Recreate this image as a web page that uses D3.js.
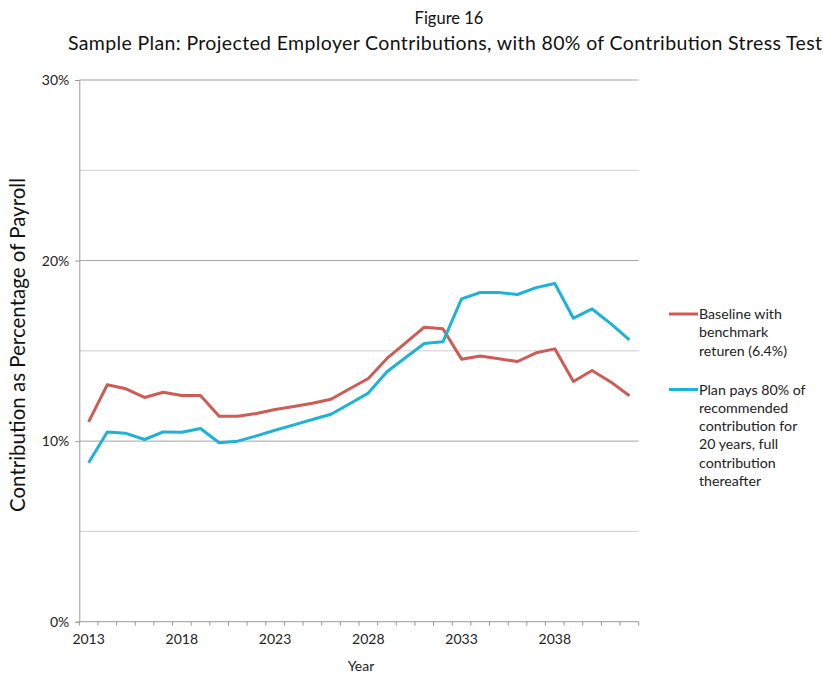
<!DOCTYPE html>
<html><head><meta charset="utf-8">
<script src="https://cdn.jsdelivr.net/npm/d3@7"></script>
<style>body{margin:0;background:#fff;} svg{display:block;font-family:Lato,"Noto Sans",sans-serif;}</style>
</head><body>
<svg id="c" width="823" height="673"></svg>
<script>
const years = d3.range(2013, 2043);
const baseline = [11.07,13.12,12.9,12.42,12.71,12.53,12.53,11.38,11.38,11.53,11.75,11.92,12.1,12.32,12.9,13.47,14.58,15.44,16.31,16.22,14.54,14.72,14.56,14.41,14.89,15.11,13.3,13.91,13.28,12.51];
const stress = [8.8,10.51,10.43,10.09,10.51,10.49,10.7,9.91,10.0,10.29,10.6,10.9,11.2,11.49,12.07,12.66,13.84,14.63,15.41,15.5,17.88,18.23,18.23,18.12,18.5,18.73,16.81,17.32,16.51,15.61];
const tickYears = [2013, 2018, 2023, 2028, 2033, 2038];
const yTicks = [0, 10, 20, 30];
const minorY = [5, 15, 25];
const seriesNames = ["Baseline with|benchmark|returen (6.4%)", "Plan pays 80% of|recommended|contribution for|20 years, full|contribution|thereafter"];
const colors = ["#CD5C57", "#1EB2D5"];

const svg = d3.select("#c");
const L = 79.3, R = 638.7, T = 80, B = 621.7;
const x = d3.scaleBand().domain(years).range([L, R]);
const y = d3.scaleLinear().domain([0, 30]).range([B, T]);

// gridlines
svg.append("g").selectAll("line").data(minorY).join("line")
  .attr("x1", L).attr("x2", R).attr("y1", d => y(d)).attr("y2", d => y(d))
  .attr("stroke", "#cfcfcf").attr("stroke-width", 1);
svg.append("g").selectAll("line").data(yTicks.filter(d => d > 0)).join("line")
  .attr("x1", L).attr("x2", R).attr("y1", d => y(d)).attr("y2", d => y(d))
  .attr("stroke", "#a3a3a3").attr("stroke-width", 1);

// y axis
const yAxis = d3.axisLeft(y).tickValues(yTicks).tickFormat(d => d + "%").tickSize(4).tickPadding(6);
const gy = svg.append("g").attr("transform", `translate(${L},0)`).call(yAxis);
gy.select(".domain").attr("stroke", "#999");
gy.selectAll(".tick line").attr("stroke", "#999");
gy.selectAll("text").attr("font-size", 14).attr("fill", "#222").attr("font-family", "Lato, 'Noto Sans', sans-serif");

// x axis: ticks between categories
const tickPos = years.map(yr => x(yr)).concat([R]);
const gx = svg.append("g");
gx.append("line").attr("x1", L).attr("x2", R).attr("y1", B).attr("y2", B).attr("stroke", "#999");
gx.selectAll("line.t").data(tickPos).join("line").attr("class", "t")
  .attr("x1", d => d).attr("x2", d => d).attr("y1", B).attr("y2", B + 4).attr("stroke", "#999");
gx.selectAll("text").data(tickYears).join("text")
  .attr("x", d => x(d) + x.bandwidth() / 2).attr("y", B + 22)
  .attr("text-anchor", "middle").attr("font-size", 14).attr("fill", "#222").text(d => d);

// lines
const line = d3.line().x((d, i) => x(years[i]) + x.bandwidth() / 2).y(d => y(d));
[baseline, stress].forEach((s, k) => {
  svg.append("path").datum(s).attr("d", line).attr("fill", "none")
    .attr("stroke", colors[k]).attr("stroke-width", 3).attr("stroke-linejoin", "round");
});

// titles
svg.append("text").attr("x", 449).attr("y", 24).attr("text-anchor", "middle")
  .attr("font-size", 16.5).attr("fill", "#111").text("Figure 16");
svg.append("text").attr("x", 445).attr("y", 50).attr("text-anchor", "middle")
  .attr("font-size", 19.5).attr("fill", "#111")
  .attr("textLength", 754).attr("lengthAdjust", "spacing")
  .text("Sample Plan: Projected Employer Contributions, with 80% of Contribution Stress Test");
svg.append("text").attr("transform", "translate(25,345) rotate(-90)").attr("text-anchor", "middle")
  .attr("font-size", 20.5).attr("fill", "#111").text("Contribution as Percentage of Payroll");
svg.append("text").attr("x", 361).attr("y", 671).attr("text-anchor", "middle")
  .attr("font-size", 14).attr("fill", "#222").text("Year");

// legend
const legY = [314, 389.5];
seriesNames.forEach((nm, k) => {
  const g = svg.append("g");
  g.append("line").attr("x1", 669).attr("x2", 698).attr("y1", legY[k]).attr("y2", legY[k])
    .attr("stroke", colors[k]).attr("stroke-width", 3);
  nm.split("|").forEach((ln, j) => {
    g.append("text").attr("x", 699).attr("y", legY[k] + 5 + j * 18.3)
      .attr("font-size", 14.2).attr("fill", "#222").text(ln);
  });
});
</script>
</body></html>
